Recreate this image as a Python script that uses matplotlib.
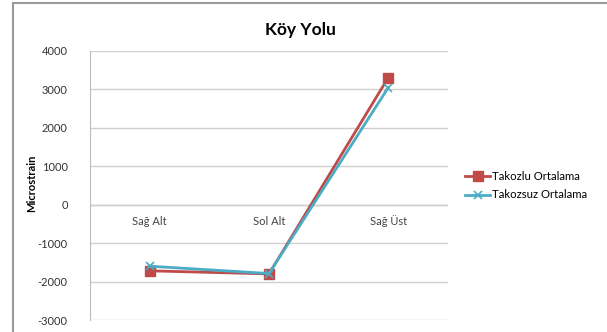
import matplotlib.pyplot as plt
from matplotlib.lines import Line2D

# Dane
konumlar = ["Sağ Alt", "Sol Alt", "Sağ Üst"]
takozlu = [-1720, -1800, 3310]
takozsuz = [-1600, -1790, 3050]
y_ticks = [-3000, -2000, -1000, 0, 1000, 2000, 3000, 4000]

plt.rcParams['font.family'] = ['Lato', 'DejaVu Sans']

fig = plt.figure(figsize=(6.07, 3.32), dpi=100)
ax = fig.add_axes([0.1483, 0.0361, 0.5897, 0.8103])

# Dış çerçeve (sol ve üst kenar)
x0, y0 = 13 / 607, 1 - 3 / 332
fig.lines.append(Line2D([x0, x0], [0, y0], transform=fig.transFigure,
                        color='#9a9a9a', linewidth=1.5))
fig.lines.append(Line2D([x0, 1], [y0, y0], transform=fig.transFigure,
                        color='#9a9a9a', linewidth=1.5))

x = range(len(konumlar))
ax.plot(x, takozlu, color='#BE4B48', linewidth=2, marker='s', markersize=6.5,
        label='Takozlu Ortalama')
ax.plot(x, takozsuz, color='#4BACC6', linewidth=2, marker='x', markersize=6,
        markeredgewidth=1.2, label='Takozsuz Ortalama')

ax.set_xlim(-0.5, len(konumlar) - 0.5)
ax.set_ylim(-3000, 4000)
ax.set_yticks(y_ticks)
ax.set_yticklabels([str(v) for v in y_ticks], fontsize=8, color='#333333')
ax.tick_params(axis='y', length=0, pad=16)
ax.set_xticks([])
ax.grid(axis='y', color='#cfcfcf', linewidth=1)
ax.set_axisbelow(True)
for s in ['top', 'right', 'bottom']:
    ax.spines[s].set_visible(False)
ax.spines['left'].set_color('#bdbdbd')
ax.axhline(0, color='#bdbdbd', linewidth=1, zorder=0)

# Kategori etiketleri sıfır çizgisinin altında
for i, k in enumerate(konumlar):
    ax.annotate(k, (i, 0), xytext=(0, -12), textcoords='offset points',
                ha='center', va='center', fontsize=8, color='#444444')

ax.set_ylabel('Microstrain', fontsize=8, fontweight='bold')
ax.yaxis.set_label_coords(-0.148, 0.51)

fig.text(0.495, 0.91, 'Köy Yolu', ha='center', va='center', fontsize=12.5,
         fontweight='bold')

ax.legend(loc='center left', bbox_to_anchor=(1.02, 0.5), frameon=False,
          fontsize=8.2, handlelength=2.2, handletextpad=0.15, labelspacing=0.7)

fig.savefig('out.png', dpi=100, facecolor='white')
